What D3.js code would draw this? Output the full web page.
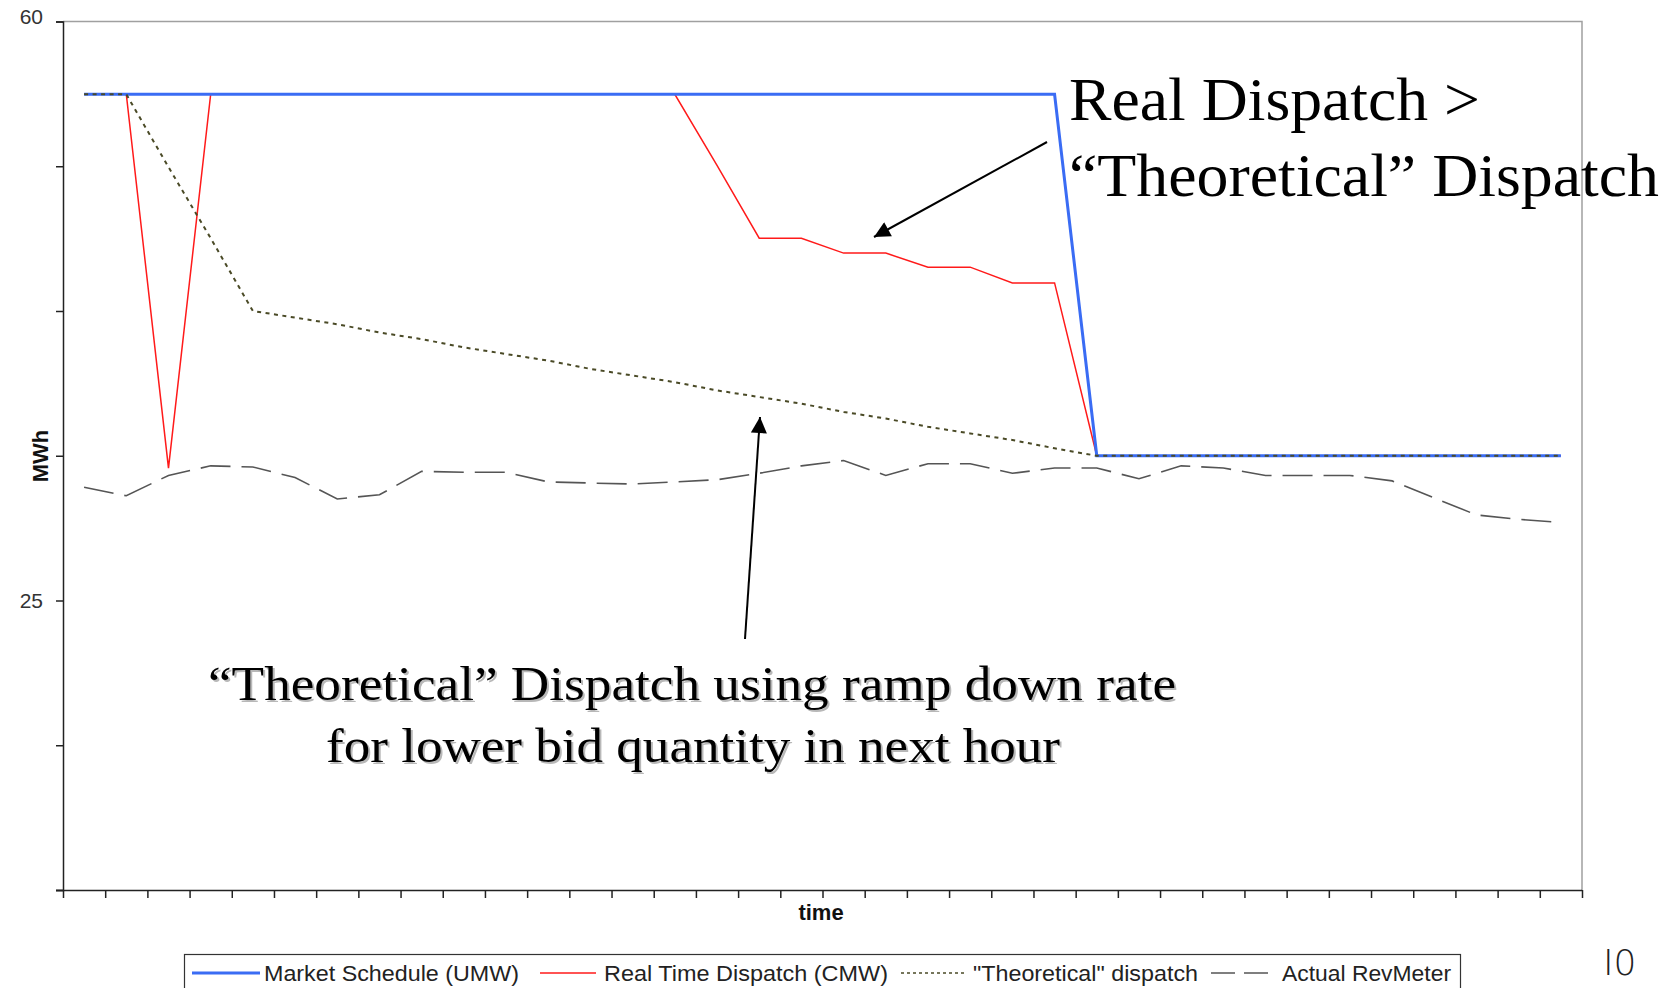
<!DOCTYPE html>
<html>
<head>
<meta charset="utf-8">
<script src="https://cdn.jsdelivr.net/npm/d3@7"></script>
<style>
  body { margin: 0; background: #fff; }
  svg { display: block; }
</style>
</head>
<body>
<script>
// values, one per time step (36 steps)
const marketSchedule = [55.6,55.6,55.6,55.6,55.6,55.6,55.6,55.6,55.6,55.6,55.6,55.6,55.6,55.6,55.6,55.6,55.6,55.6,55.6,55.6,55.6,55.6,55.6,55.6,
  33.75,33.75,33.75,33.75,33.75,33.75,33.75,33.75,33.75,33.75,33.75,33.75];
const realTime = [55.6,55.6,33.0,55.6,55.6,55.6,55.6,55.6,55.6,55.6,55.6,55.6,55.6,55.6,55.6,51.3,46.9,46.9,46.0,46.0,45.15,45.15,44.2,44.2,
  33.75,33.75,33.75,33.75,33.75,33.75,33.75,33.75,33.75,33.75,33.75,33.75];
const theoretical = [55.6,55.6,51.2,46.9,42.5,42.1,41.7,41.2,40.8,40.3,39.9,39.5,39.0,38.6,38.2,37.7,37.3,36.9,36.4,36.0,35.5,35.1,34.7,34.2,
  33.75,33.75,33.75,33.75,33.75,33.75,33.75,33.75,33.75,33.75,33.75,33.75];
const revMeter = [31.85,31.33,32.56,33.14,33.07,32.43,31.14,31.39,32.81,32.75,32.75,32.17,32.10,32.04,32.17,32.30,32.69,33.14,33.46,32.56,
  33.27,33.27,32.69,33.01,33.01,32.36,33.14,33.01,32.56,32.56,32.56,32.23,31.20,30.17,29.91,29.71];

const yTicks = [60, 51.25, 42.5, 33.75, 25, 16.25, 7.5];
const yLabels = [60, 25];

const series = [
  {name: "Market Schedule (UMW)", values: marketSchedule, color: "#3a6cf4", width: 3, dash: null},
  {name: "Real Time Dispatch (CMW)", values: realTime, color: "#ff1a1a", width: 1.5, dash: null},
  {name: "\"Theoretical\" dispatch", values: theoretical, color: "#4a4a26", width: 2, dash: "4,4.5"},
  {name: "Actual RevMeter", values: revMeter, color: "#555", width: 1.6, dash: "30,11"}
];

const W = 1676, H = 988;
const plotL = 63, plotR = 1582, plotT = 21.5, plotB = 890;

const svg = d3.select("body").append("svg")
    .attr("width", W)
    .attr("height", H)
    .style("font-family", "'Liberation Sans', Arial, sans-serif");

const x = d3.scaleLinear().domain([0, marketSchedule.length]).range([plotL, plotR]);
const y = d3.scaleLinear().domain([7.5, 60]).range([plotB, plotT]);

// plot frame: grey top and right edge
svg.append("path")
    .attr("d", `M${plotL},${plotT}H${plotR}V${plotB}`)
    .attr("fill", "none")
    .attr("stroke", "#a0a0a0")
    .attr("stroke-width", 1.5);

// y axis
const yAxis = svg.append("g")
    .attr("transform", `translate(${plotL},0)`)
    .call(d3.axisLeft(y).tickValues(yTicks).tickSize(7).tickPadding(13)
      .tickFormat(d => yLabels.includes(d) ? d : ""));
yAxis.select(".domain").attr("stroke", "#222").attr("stroke-width", 1.5);
yAxis.selectAll(".tick line").attr("stroke", "#222").attr("stroke-width", 1.5);
yAxis.selectAll(".tick text")
    .attr("font-size", 21)
    .attr("fill", "#333")
    .attr("font-family", "'Liberation Sans', Arial, sans-serif");
yAxis.selectAll(".tick text").filter(d => d === 60).attr("dy", "0.1em");

// x axis: ticks at category boundaries, no labels
const xAxis = svg.append("g")
    .attr("transform", `translate(0,${plotB})`)
    .call(d3.axisBottom(x).tickValues(d3.range(0, marketSchedule.length + 1)).tickSize(8).tickFormat(""));
xAxis.select(".domain").attr("stroke", "#222").attr("stroke-width", 1.5)
    .attr("d", `M${plotL - 7},0.5H${plotR}`);
xAxis.selectAll(".tick line").attr("stroke", "#222").attr("stroke-width", 1.5);

svg.append("text")
    .attr("x", 821).attr("y", 920)
    .attr("text-anchor", "middle")
    .attr("font-size", 22).attr("font-weight", "bold")
    .attr("fill", "#111")
    .text("time");

svg.append("text")
    .attr("transform", "translate(48,456) rotate(-90)")
    .attr("text-anchor", "middle")
    .attr("font-size", 22).attr("font-weight", "bold")
    .attr("fill", "#111")
    .text("MWh");

// lines (dotted drawn last so it sits on top of the flat tail)
const line = d3.line().x((d, i) => x(i + 0.5)).y(d => y(d));
const drawOrder = [3, 1, 0, 2];
drawOrder.forEach(k => {
  const s = series[k];
  svg.append("path")
      .attr("d", line(s.values))
      .attr("fill", "none")
      .attr("stroke", s.color)
      .attr("stroke-width", s.width)
      .attr("stroke-dasharray", s.dash);
});

// legend
const legend = svg.append("g");
legend.append("rect")
    .attr("x", 184.5).attr("y", 954.5)
    .attr("width", 1276).attr("height", 50)
    .attr("fill", "#fff")
    .attr("stroke", "#333").attr("stroke-width", 1.2);
const legItems = [
  {lx0: 192, lx1: 260, tx: 264, tw: 255, dash: null},
  {lx0: 540, lx1: 596, tx: 604, tw: 284, dash: null},
  {lx0: 901, lx1: 965, tx: 973, tw: 225, dash: "3,3"},
  {lx0: 1211, lx1: 1268, tx: 1282, tw: 169, dash: "24,9"}
];
series.forEach((s, i) => {
  const it = legItems[i];
  legend.append("line")
      .attr("x1", it.lx0).attr("x2", it.lx1)
      .attr("y1", 973).attr("y2", 973)
      .attr("stroke", s.color)
      .attr("stroke-width", i === 2 ? 1.5 : s.width)
      .attr("stroke-dasharray", it.dash);
  legend.append("text")
      .attr("x", it.tx).attr("y", 981)
      .attr("font-size", 22)
      .attr("fill", "#222")
      .attr("textLength", it.tw)
      .attr("lengthAdjust", "spacingAndGlyphs")
      .text(s.name);
});

// annotations
const serif = "'Liberation Serif', 'Times New Roman', serif";
svg.append("text")
    .attr("x", 1069).attr("y", 120)
    .attr("font-family", serif).attr("font-size", 62)
    .attr("textLength", 411).attr("lengthAdjust", "spacingAndGlyphs")
    .text("Real Dispatch >");
svg.append("text")
    .attr("x", 1069).attr("y", 196)
    .attr("font-family", serif).attr("font-size", 62)
    .attr("textLength", 590).attr("lengthAdjust", "spacingAndGlyphs")
    .text("\u201CTheoretical\u201D Dispatch");

const bottomLines = [
  {t: "\u201CTheoretical\u201D Dispatch using ramp down rate", x: 208, y: 700, w: 968},
  {t: "for lower bid quantity in next hour", x: 326, y: 762, w: 734}
];
bottomLines.forEach(b => {
  [{dx: 2, dy: 2, c: "#b8b8b8"}, {dx: 0, dy: 0, c: "#000"}].forEach(l => {
    svg.append("text")
        .attr("x", b.x + l.dx).attr("y", b.y + l.dy)
        .attr("font-family", serif).attr("font-size", 49)
        .attr("fill", l.c)
        .attr("textLength", b.w).attr("lengthAdjust", "spacingAndGlyphs")
        .text(b.t);
  });
});

svg.append("defs").append("marker")
    .attr("id", "head")
    .attr("viewBox", "0 0 10 10")
    .attr("refX", 10).attr("refY", 5)
    .attr("markerWidth", 18).attr("markerHeight", 16)
    .attr("markerUnits", "userSpaceOnUse")
    .attr("orient", "auto")
  .append("path")
    .attr("d", "M0,0L10,5L0,10z")
    .attr("fill", "#000");

const arrows = [
  {x1: 1047, y1: 142, x2: 874, y2: 237},
  {x1: 745, y1: 639, x2: 760, y2: 417}
];
arrows.forEach(a => {
  svg.append("line")
      .attr("x1", a.x1).attr("y1", a.y1).attr("x2", a.x2).attr("y2", a.y2)
      .attr("stroke", "#000").attr("stroke-width", 2)
      .attr("marker-end", "url(#head)");
});

// slide number
svg.append("text")
    .attr("x", 1603).attr("y", 975)
    .attr("font-family", "'DejaVu Sans', sans-serif")
    .attr("font-size", 36).attr("font-weight", 300)
    .attr("fill", "#222")
    .text("I0");
</script>
</body>
</html>
